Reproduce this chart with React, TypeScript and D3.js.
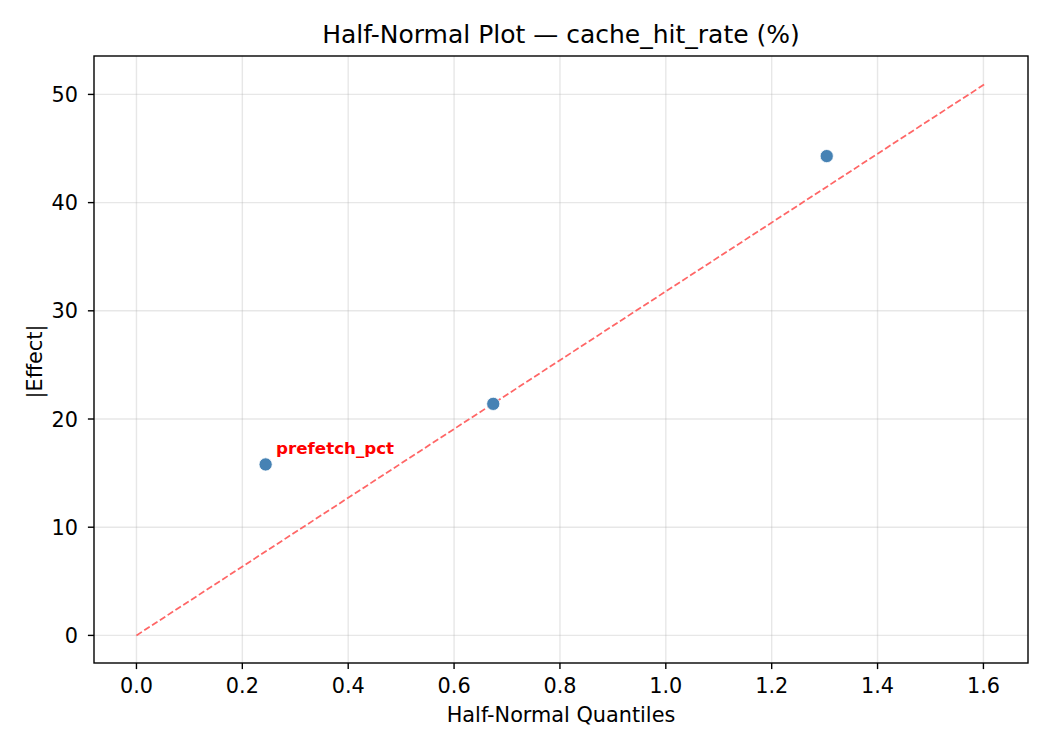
import { useEffect } from 'react';
import * as d3 from 'd3';

// Half-normal plot data
const quantiles = [0.244, 0.674, 1.304];
const effects = [15.8, 21.4, 44.3];
const pointLabels = ['prefetch_pct', '', ''];

// Reference line end points
const refX = [0, 1.604];
const refY = [0, 51.0];

const xTicks = [0, 0.2, 0.4, 0.6, 0.8, 1.0, 1.2, 1.4, 1.6];
const yTicks = [0, 10, 20, 30, 40, 50];

const title = 'Half-Normal Plot — cache_hit_rate (%)';
const xLabel = 'Half-Normal Quantiles';
const yLabel = '|Effect|';

const W = 1050;
const H = 750;
const margin = { top: 56, right: 22, bottom: 87, left: 94 };
const FONT = '"DejaVu Sans", sans-serif';

export default function App() {
    useEffect(() => {
        document.body.style.margin = '0';
    }, []);

    const innerW = W - margin.left - margin.right;
    const innerH = H - margin.top - margin.bottom;

    // 5% padding like matplotlib autoscale
    const xExt = d3.extent([...quantiles, ...refX]) as [number, number];
    const yExt = d3.extent([...effects, ...refY]) as [number, number];
    const xPad = (xExt[1] - xExt[0]) * 0.05;
    const yPad = (yExt[1] - yExt[0]) * 0.05;

    const x = d3.scaleLinear().domain([xExt[0] - xPad, xExt[1] + xPad]).range([0, innerW]);
    const y = d3.scaleLinear().domain([yExt[0] - yPad, yExt[1] + yPad]).range([innerH, 0]);

    const line = d3.line<number>()
        .x((_, i) => x(refX[i]))
        .y((d) => y(d));

    return (
        <svg width={W} height={H} style={{ position: 'absolute', left: 0, top: 0, background: '#fff' }} fontFamily={FONT}>
            <text x={margin.left + innerW / 2} y={43} textAnchor="middle" fontSize={25} fill="#000">{title}</text>
            <g transform={`translate(${margin.left},${margin.top})`}>
                {/* Grid */}
                {xTicks.map((t) => (
                    <line key={`gx${t}`} x1={x(t)} x2={x(t)} y1={0} y2={innerH} stroke="#b0b0b0" strokeOpacity={0.3} strokeWidth={1.4} />
                ))}
                {yTicks.map((t) => (
                    <line key={`gy${t}`} x1={0} x2={innerW} y1={y(t)} y2={y(t)} stroke="#b0b0b0" strokeOpacity={0.3} strokeWidth={1.4} />
                ))}

                {/* Reference line */}
                <path d={line(refY) || ''} fill="none" stroke="rgb(255,102,102)" strokeWidth={1.75} strokeDasharray="6.5,2.8" />

                {/* Points */}
                {quantiles.map((q, i) => (
                    <circle key={`p${i}`} cx={x(q)} cy={y(effects[i])} r={6.6} fill="#4682b4" stroke="#fff" strokeWidth={0.8} />
                ))}
                {quantiles.map((q, i) => pointLabels[i] ? (
                    <text key={`l${i}`} x={x(q) + 10.5} y={y(effects[i]) - 10.3} fontSize={16.7} fontWeight="bold" fill="red">{pointLabels[i]}</text>
                ) : null)}

                {/* Spines */}
                <rect x={0} y={0} width={innerW} height={innerH} fill="none" stroke="#000" strokeWidth={1.4} />

                {/* X ticks */}
                {xTicks.map((t) => (
                    <g key={`tx${t}`} transform={`translate(${x(t)},${innerH})`}>
                        <line y1={0} y2={6.1} stroke="#000" strokeWidth={1.4} />
                        <text y={30} textAnchor="middle" fontSize={20.8} fill="#000">{t.toFixed(1)}</text>
                    </g>
                ))}
                {/* Y ticks */}
                {yTicks.map((t) => (
                    <g key={`ty${t}`} transform={`translate(0,${y(t)})`}>
                        <line x1={0} x2={-6.1} stroke="#000" strokeWidth={1.4} />
                        <text x={-16} dy="0.36em" textAnchor="end" fontSize={20.8} fill="#000">{t}</text>
                    </g>
                ))}
            </g>
            <text x={margin.left + innerW / 2} y={722} textAnchor="middle" fontSize={20.8} fill="#000">{xLabel}</text>
            <text transform={`translate(42,${margin.top + innerH / 2 + 2}) rotate(-90)`} textAnchor="middle" fontSize={20.8} fill="#000">{yLabel}</text>
        </svg>
    );
}
